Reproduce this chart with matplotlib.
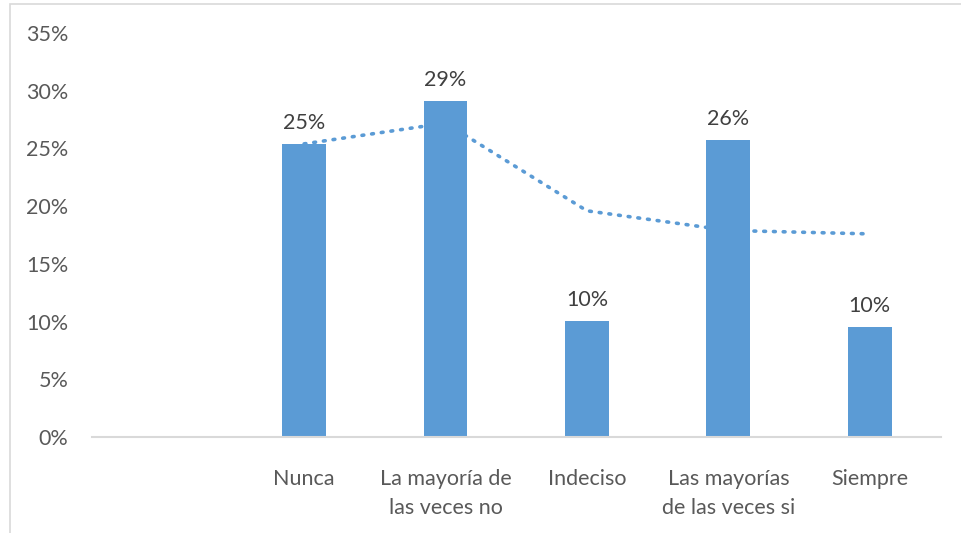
import numpy as np
import matplotlib
matplotlib.use("Agg")
import matplotlib.pyplot as plt
from matplotlib.patches import Rectangle

plt.rcParams['font.family'] = ['Lato', 'DejaVu Sans']

# data
categories = ["", "Nunca", "La mayoría de\nlas veces no", "Indeciso",
              "Las mayorías\nde las veces si", "Siempre"]
values = [np.nan, 0.254, 0.291, 0.1005, 0.257, 0.095]
labels = ["", "25%", "29%", "10%", "26%", "10%"]
# dotted trend line (Excel moving average)
trend = [np.nan, 0.254, 0.272, 0.196, 0.179, 0.176]
yticks = [0, 0.05, 0.10, 0.15, 0.20, 0.25, 0.30, 0.35]

bar_color = "#5B9BD5"
text_color = "#595959"
fs = 15.5

fig = plt.figure(figsize=(9.61, 5.33), dpi=100)
ax = fig.add_axes([0.0957, 0.180, 0.883, 0.758])

x = np.arange(len(categories))
ax.bar(x, values, width=0.31, color=bar_color, zorder=2)
ax.plot(x, trend, color=bar_color, linestyle=(0, (0.5, 2.2)), linewidth=2.6,
        dash_capstyle='round', zorder=3)

for xi, v, lab in zip(x, values, labels):
    if lab:
        ax.annotate(lab, (xi, v), xytext=(0, 8), textcoords='offset points',
                    ha='center', va='bottom', fontsize=fs, color="#404040")

ax.set_xlim(-0.5, len(categories) - 0.5)
ax.set_ylim(0, 0.35)
ax.set_yticks(yticks)
ax.set_yticklabels([f"{int(round(t * 100))}%" for t in yticks])
ax.set_xticks(x)
ax.set_xticklabels(categories, linespacing=1.55)

ax.tick_params(axis='y', length=0, pad=17, labelsize=fs, labelcolor=text_color)
ax.tick_params(axis='x', length=0, pad=23, labelsize=fs, labelcolor=text_color)

for side in ['top', 'right', 'left']:
    ax.spines[side].set_visible(False)
ax.spines['bottom'].set_color("#D9D9D9")
ax.spines['bottom'].set_linewidth(1.5)

# chart area border
fig.patches.append(Rectangle((10 / 961, -0.05), 1.2, 1 - 4 / 533 + 0.05,
                             transform=fig.transFigure, fill=False,
                             edgecolor="#D9D9D9", linewidth=1.2))

fig.savefig("out.png", dpi=100)
